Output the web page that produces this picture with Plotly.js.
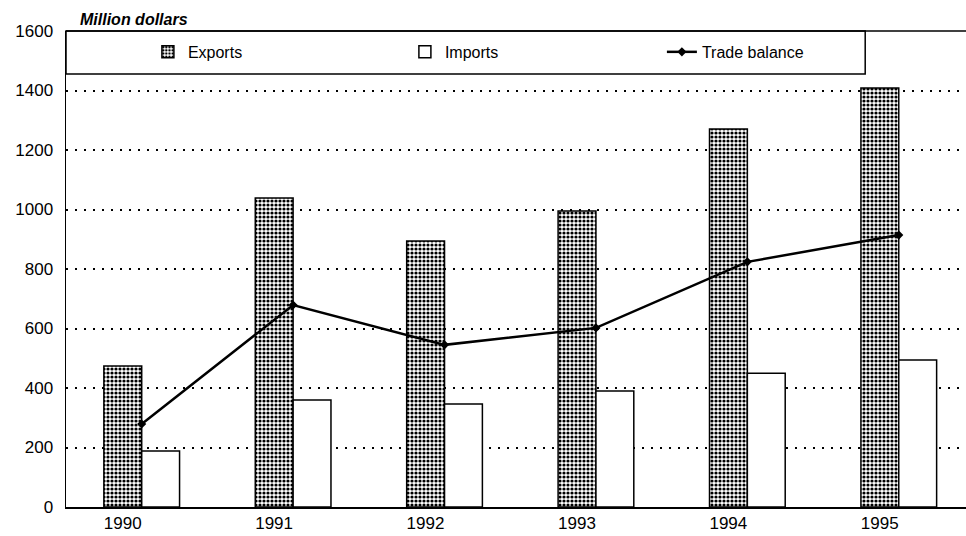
<!DOCTYPE html>
<html><head><meta charset="utf-8">
<script src="https://cdn.plot.ly/plotly-3.0.1.min.js"></script>
<style>html,body{margin:0;padding:0;background:#fff}#c{width:966px;height:536px}</style>
</head><body><div id="c"></div>
<script>
const years = ['1990','1991','1992','1993','1994','1995'];
const exportsVals = [474, 1039, 894, 995, 1271, 1408];
const importsVals = [188, 360, 346, 390, 450, 494];
const balanceVals = [279, 679, 545, 602, 824, 914];
const yTicks = [0,200,400,600,800,1000,1200,1400,1600];

const traces = [
 {type:'bar', name:'Exports', x:years, y:exportsVals,
  marker:{color:'#fff', line:{color:'#000', width:1.5},
   pattern:{shape:'.', fgcolor:'#000', bgcolor:'#fff', size:4, solidity:0.5}}},
 {type:'bar', name:'Imports', x:years, y:importsVals,
  marker:{color:'#fff', line:{color:'#000', width:1.5}}},
 {type:'scatter', mode:'lines+markers', name:'Trade balance', x:years, y:balanceVals,
  line:{color:'#000', width:2.5}, marker:{symbol:'diamond', size:7, color:'#000'}}
];

const layout = {
 width:966, height:536,
 margin:{l:66, r:0, t:31, b:29},
 paper_bgcolor:'#fff', plot_bgcolor:'#fff',
 font:{family:'Liberation Sans, Arial, sans-serif', size:17, color:'#000'},
 barmode:'group', bargap:0.5, bargroupgap:0,
 xaxis:{type:'category', range:[-0.5, 5.444], showgrid:false, showline:true, linecolor:'#000', linewidth:1.5,
  ticks:'', ticklabelshift:-19, tickfont:{size:17}, fixedrange:true},
 yaxis:{range:[0,1600], tickvals:yTicks, showgrid:true, gridcolor:'#000', griddash:'2px,7px', gridwidth:2,
  showline:true, linecolor:'#000', linewidth:1.5, ticks:'', ticklabelstandoff:8, zeroline:false, tickfont:{size:17}},
 showlegend:true,
 legend:{orientation:'h', x:0.091, y:0.956, xanchor:'left', yanchor:'middle', entrywidth:212, entrywidthmode:'pixels',
  font:{size:16}, bgcolor:'rgba(0,0,0,0)', traceorder:'normal'},
 shapes:[
  {type:'rect', xref:'paper', yref:'paper', x0:0, x1:0.888, y0:0.9097, y1:1, line:{color:'#000', width:1.5}, fillcolor:'rgba(0,0,0,0)'},
  {type:'line', xref:'paper', yref:'paper', x0:0, x1:1, y0:1, y1:1, line:{color:'#000', width:1.5}}
 ],
 annotations:[
  {text:'<b><i>Million dollars</i></b>', xref:'paper', yref:'paper', x:0.013, y:1, xanchor:'left', yanchor:'bottom', yshift:1, showarrow:false, font:{size:16}}
 ]
};
Plotly.newPlot('c', traces, layout, {displayModeBar:false, staticPlot:true});
</script></body></html>
